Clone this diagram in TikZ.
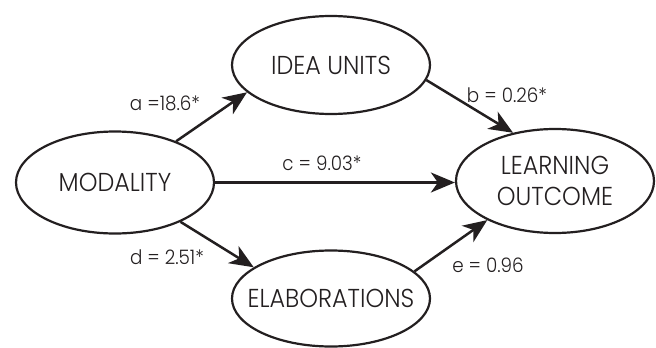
\documentclass[tikz,border=0pt]{standalone}
\usepackage{fontspec}
\setmainfont{Poppins Light}[FakeStretch=0.92]
\usetikzlibrary{arrows.meta,shapes.geometric}
\definecolor{ink}{HTML}{231F20}
\tikzset{
  var/.style={ellipse, draw=ink, line width=2.2bp, inner sep=0pt,
    minimum width=198bp, minimum height=100bp},
  varname/.style={text=ink, align=center, inner sep=0pt,
    font=\fontsize{26}{31}\selectfont},
  path/.style={draw=ink, line width=2.5bp,
    -{Stealth[length=24bp, width=20bp, inset=7bp]}},
  coef/.style={text=ink, inner sep=0pt, font=\fontsize{20}{23}\selectfont}
}
\begin{document}
\begin{tikzpicture}[x=1bp,y=1bp]
\useasboundingbox (0,0) rectangle (656,347);
% variables
\node[var, minimum height=102bp,
      label={[varname]center:MODALITY}] (mod) at (115,164.5) {};
\node[var, minimum height=98bp,
      label={[varname]center:IDEA UNITS}] (idea) at (331,282) {};
\node[var, minimum height=104bp,
      label={[varname]center:LEARNING\\OUTCOME}] (learn) at (555,166) {};
\node[var, minimum height=96bp,
      label={[varname]center:ELABORATIONS}] (elab) at (331,48.5) {};
% paths
\draw[path] (mod.34)   -- (idea.198);
\draw[path] (idea.-9)  -- (learn.131);
\draw[path] (mod.east) -- (mod.east -| learn.west);
\draw[path] (mod.-31)  -- (elab.158);
\draw[path] (elab.18)  -- (learn.210);
% coefficients
\node[coef] (ca) at (165,244) {a =18.6*};
\node[coef] (cb) at (507,252) {b = 0.26*};
\node[coef] (cc) at (322,184) {c = 9.03*};
\node[coef] (cd) at (167,90)  {d = 2.51*};
\node[coef] (ce) at (488,82)  {e = 0.96};
\end{tikzpicture}
\end{document}
